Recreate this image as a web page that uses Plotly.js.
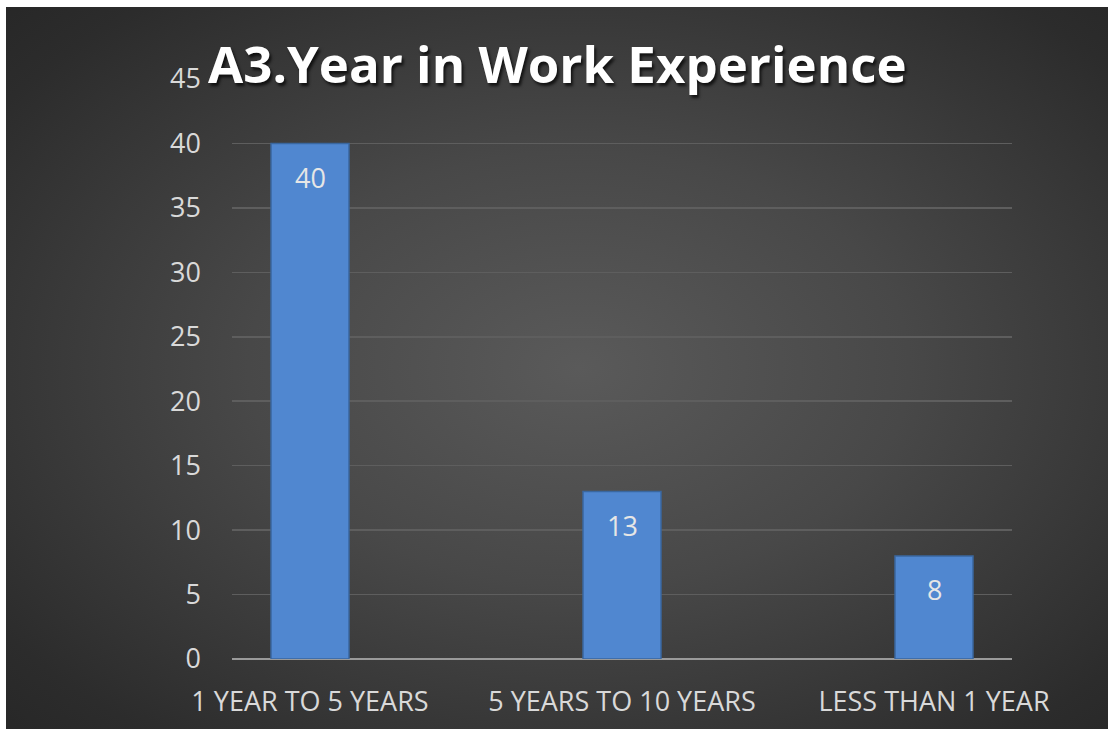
<!DOCTYPE html>
<html>
<head>
<meta charset="utf-8">
<script src="https://cdn.plot.ly/plotly-3.0.1.min.js"></script>
<style>
  html, body { margin: 0; padding: 0; background: #ffffff; }
  #wrap { position: relative; width: 1108px; height: 729px; background: #ffffff; overflow: hidden; }
  #bg { position: absolute; left: 6px; top: 7px; right: 0; bottom: 0;
        background: radial-gradient(ellipse 75% 75% at 52% 50%, #5a5a5a 0%, #484848 40%, #2c2c2c 85%, #262626 100%); }
  #chart { position: absolute; left: 0; top: 0; width: 1108px; height: 729px; }
</style>
</head>
<body>
<div id="wrap"><div id="bg"></div><div id="chart"></div></div>
<script>
const categories = ["1 YEAR TO 5 YEARS", "5 YEARS TO 10 YEARS", "LESS THAN 1 YEAR"];
const counts = [40, 13, 8];
const yTicks = [0, 5, 10, 15, 20, 25, 30, 35, 40, 45];
const chartTitle = "A3.Year in Work Experience";

const FONT = "Open Sans, Noto Sans, sans-serif";

const trace = {
  type: "bar",
  x: categories,
  y: counts,
  width: 0.25,
  marker: { color: "#5087d0", line: { color: "#3a679f", width: 1.5 } },
  hoverinfo: "none"
};

const labels = categories.map((c, i) => ({
  x: c, y: counts[i], xref: "x", yref: "y",
  text: String(counts[i]),
  showarrow: false,
  yanchor: "middle",
  yshift: -34,
  font: { family: FONT, size: 27, color: "#e6e6e6" }
}));

const layout = {
  width: 1108, height: 729,
  paper_bgcolor: "rgba(0,0,0,0)",
  plot_bgcolor: "rgba(0,0,0,0)",
  margin: { l: 232, r: 96, t: 79, b: 70 },
  showlegend: false,
  title: {
    text: "<b>" + chartTitle + "</b>",
    font: { family: FONT, size: 51, color: "#ffffff", shadow: "2px 3px 3px rgba(0,0,0,0.7)" },
    x: 0.503, xanchor: "center",
    y: 0.91, yanchor: "middle"
  },
  annotations: labels,
  xaxis: {
    type: "category",
    range: [-0.25, 2.25],
    showgrid: false,
    showline: false,
    zeroline: false,
    ticks: "",
    ticklabelstandoff: 24,
    tickfont: { family: FONT, size: 27, color: "#d9d9d9" },
    fixedrange: true
  },
  yaxis: {
    range: [0, 45],
    tickvals: yTicks,
    ticktext: yTicks.map(String),
    showgrid: true,
    gridcolor: "#5e5e5e",
    gridwidth: 1.5,
    zeroline: true,
    zerolinecolor: "#9a9a9a",
    zerolinewidth: 2,
    showline: false,
    ticks: "",
    ticklabelstandoff: 30,
    tickfont: { family: FONT, size: 27, color: "#d9d9d9" },
    fixedrange: true
  }
};

Plotly.newPlot("chart", [trace], layout, { displayModeBar: false, staticPlot: true });
</script>
</body>
</html>
